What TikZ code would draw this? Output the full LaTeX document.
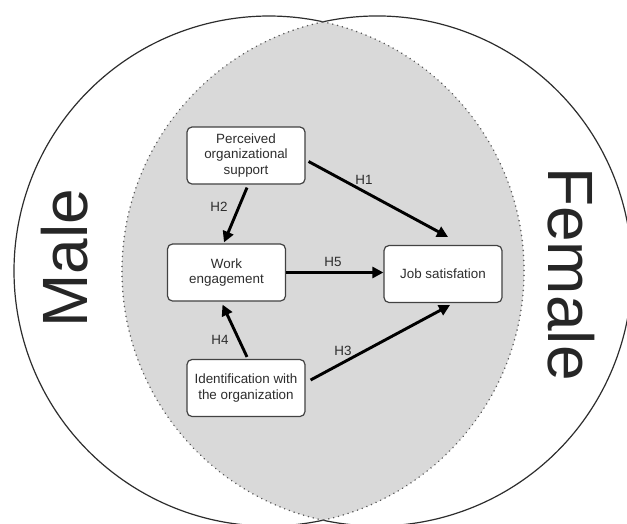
\documentclass[tikz,border=0pt]{standalone}
\usepackage{fontspec}
\setmainfont{Liberation Sans}
\usetikzlibrary{arrows.meta}
\definecolor{lensgray}{RGB}{217,217,217}
\definecolor{inkgray}{RGB}{45,45,45}
\tikzset{
  boxnode/.style={draw=inkgray!90, line width=1.2pt, fill=white, rounded corners=5pt,
    minimum width=118pt, minimum height=57pt, align=center, text=inkgray,
    font=\fontsize{13.4}{15.5}\selectfont, inner sep=2pt},
  arr/.style={line width=2.9pt, black, -{Triangle[length=11pt,width=11pt]}},
  hlabel/.style={text=inkgray, font=\fontsize{13.4}{15}\selectfont, inner sep=0pt},
  bigtext/.style={text=black!85, font=\fontsize{64}{64}\selectfont, inner sep=0pt},
  ring/.style={draw=inkgray, line width=1.2pt},
  lensedge/.style={draw=black!65, line width=1.7pt, dash pattern=on 0.01pt off 5pt, line cap=round}
}
\begin{document}
\begin{tikzpicture}[x=1pt,y=-1pt]
\useasboundingbox (0,0) rectangle (627,523);
\fill[white] (0,0) rectangle (627,523);
% lens
\begin{scope}
  \clip (269,271) circle[radius=255];
  \fill[lensgray] (377,271) circle[radius=255];
\end{scope}
% outer arcs of the two circles
\draw[ring] ([shift={(77.78:255)}]269,271) arc[start angle=77.78, end angle=282.22, radius=255];
\draw[ring] ([shift={(-102.22:255)}]377,271) arc[start angle=-102.22, end angle=102.22, radius=255];
% dotted lens border
\draw[lensedge] ([shift={(-77.78:255)}]269,271) arc[start angle=-77.78, end angle=77.78, radius=255];
\draw[lensedge] ([shift={(102.22:255)}]377,271) arc[start angle=102.22, end angle=257.78, radius=255];
% big labels
\node[bigtext, rotate=90] (male) at (65,258) {Male};
\node[bigtext, rotate=-90] (female) at (571,274) {Female};
% boxes
\node[boxnode] (pos) at (246,155.5) {Perceived\\organizational\\support};
\node[boxnode] (we) at (226.5,272.5) {Work\\engagement};
\node[boxnode] (js) at (443,274) {Job satisfation};
\node[boxnode] (id) at (246,388) {Identification with\\the organization};
% arrows
\draw[arr] ([shift={(3,6)}]pos.east) -- ([shift={(5,-8)}]js.north);
\draw[arr] ([shift={(1,3)}]pos.south) -- ([shift={(-2.5,-1)}]we.north);
\draw[arr] (we.east) -- (we.east -| js.west);
\draw[arr] ([shift={(1,-2)}]id.north) -- ([shift={(-4,3)}]we.south);
\draw[arr] ([shift={(5,-8)}]id.east) -- ([shift={(7,2)}]js.south);
% hypothesis labels
\node[hlabel] (h1) at (364,180) {H1};
\node[hlabel] (h2) at (219,207) {H2};
\node[hlabel] (h5) at (333,262) {H5};
\node[hlabel] (h4) at (220,340) {H4};
\node[hlabel] (h3) at (343,351) {H3};
\end{tikzpicture}
\end{document}
